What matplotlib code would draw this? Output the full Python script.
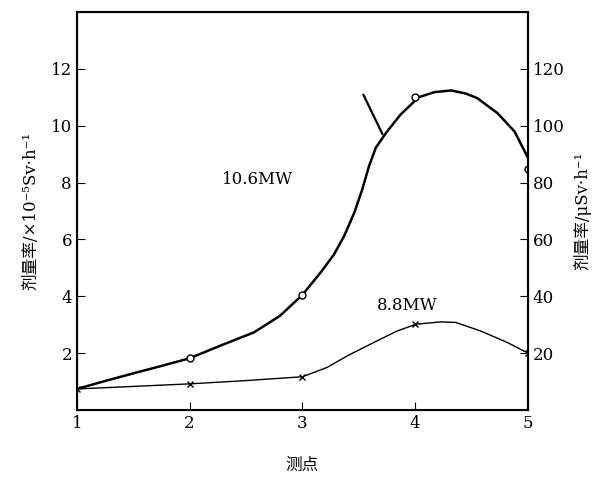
import matplotlib
matplotlib.use("Agg")
import matplotlib.pyplot as plt

plt.rcParams['font.family'] = ['DejaVu Serif', 'Noto Sans CJK SC']

# measured points
points = [1, 2, 3, 4, 5]
dose_106 = [0.74, 1.82, 4.05, 11.0, 8.46]
dose_88 = [0.74, 0.92, 1.17, 3.02, 2.0]

# smooth curves
trace_106_x = [1.0, 1.25, 1.53, 1.75, 2.0, 2.27, 2.57, 2.80, 3.0, 3.16, 3.28, 3.37, 3.46, 3.53,
               3.59, 3.65, 3.74, 3.87, 4.03, 4.17, 4.32, 4.45, 4.55, 4.73, 4.88, 5.0]
trace_106_y = [0.74, 1.02, 1.32, 1.55, 1.82, 2.26, 2.73, 3.31, 4.05, 4.83, 5.47, 6.12, 6.94, 7.75,
               8.57, 9.22, 9.74, 10.39, 11.0, 11.18, 11.24, 11.13, 10.97, 10.44, 9.8, 8.87]
trace_88_x = [1.0, 1.5, 2.0, 2.48, 3.0, 3.22, 3.40, 3.63, 3.84, 4.01, 4.23, 4.36,
              4.58, 4.82, 5.0]
trace_88_y = [0.74, 0.83, 0.92, 1.03, 1.17, 1.5, 1.91, 2.37, 2.78, 3.02, 3.1, 3.08,
              2.78, 2.37, 2.0]

yticks_left = [2, 4, 6, 8, 10, 12]
yticks_right = [20, 40, 60, 80, 100, 120]

fig = plt.figure(figsize=(6, 4.79), dpi=100)
ax = fig.add_axes([0.128, 0.144, 0.752, 0.831])

ax.plot(trace_106_x, trace_106_y, color='black', lw=1.8, solid_joinstyle='round')
ax.plot(trace_88_x, trace_88_y, color='black', lw=1.0, solid_joinstyle='round')
ax.plot(points[1:], dose_106[1:], 'o', mfc='white', mec='black', ms=5, mew=1.0)
ax.plot(points, dose_88, 'x', color='black', ms=5, mew=1.0)

ax.text(2.29, 8.1, '10.6MW', fontsize=12, va='center')
ax.text(3.66, 3.66, '8.8MW', fontsize=12, va='center')
ax.annotate('', xy=(3.72, 9.62), xytext=(3.53, 11.18),
            arrowprops=dict(arrowstyle='-', color='black', lw=1.6))

ax.set_xlim(1, 5)
ax.set_ylim(0, 14)
ax.set_xticks(points)
ax.set_yticks(yticks_left)
ax.tick_params(direction='in', labelsize=12, length=6)
ax.set_xlabel('测点', fontsize=12, labelpad=18)
ax.set_ylabel('剂量率/×10⁻⁵Sv·h⁻¹', fontsize=12, labelpad=8)
for s in ax.spines.values():
    s.set_linewidth(1.5)

ax2 = ax.twinx()
ax2.set_ylim(0, 140)
ax2.set_yticks(yticks_right)
ax2.tick_params(direction='in', labelsize=12, length=6)
ax2.set_ylabel('剂量率/μSv·h⁻¹', fontsize=12, labelpad=6)

fig.savefig('out.png', dpi=100)
